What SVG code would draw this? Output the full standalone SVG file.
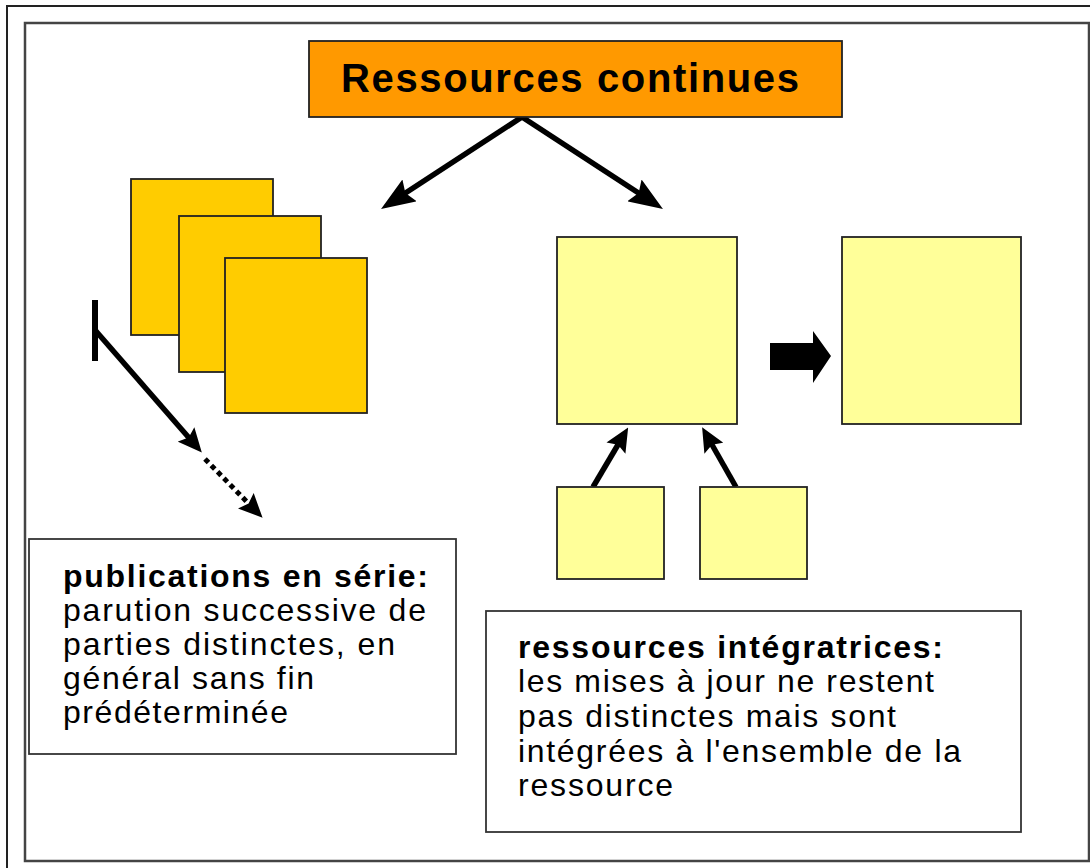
<svg xmlns="http://www.w3.org/2000/svg" width="1090" height="868" viewBox="0 0 1090 868">
<style>
.frame{fill:none;stroke:#222;stroke-width:2}
.inner{fill:#fff;stroke:#444;stroke-width:2.5}
.box{stroke:#222;stroke-width:1.8}
.gold{fill:#FFCC00}
.pale{fill:#FFFF99}
.orange{fill:#FF9900}
.txtbox{fill:#fff;stroke:#333;stroke-width:1.8}
.conn{stroke:#000;stroke-width:5.5;fill:none}
.dot{stroke:#000;stroke-width:5;fill:none;stroke-dasharray:5 4}
.t{font-family:"Liberation Sans",Arial,sans-serif;font-size:32px;fill:#000}
.b{font-weight:bold}
</style>
<defs>
<marker id="big" markerUnits="userSpaceOnUse" markerWidth="34" markerHeight="26" viewBox="0 0 34 26" refX="14" refY="13" orient="auto">
<path d="M0,0 L34,13 L0,26 L5,13 Z" fill="#000"/>
</marker>
<marker id="mid" markerUnits="userSpaceOnUse" markerWidth="24" markerHeight="22" viewBox="0 0 24 22" refX="6" refY="11" orient="auto">
<path d="M0,0 L24,11 L0,22 L4,11 Z" fill="#000"/>
</marker>
</defs>
<rect x="7" y="6" width="1100" height="880" class="frame"/>
<rect x="25" y="23" width="1064" height="838" class="inner"/>

<g id="connectors">
<line x1="522" y1="117" x2="397.8" y2="198" class="conn" marker-end="url(#big)"/>
<line x1="522" y1="117" x2="646.2" y2="198" class="conn" marker-end="url(#big)"/>
<rect x="92" y="300" width="6" height="61" fill="#000"/>
<line x1="95" y1="330" x2="190" y2="439" class="conn" marker-end="url(#mid)"/>
<line x1="205" y1="459" x2="250" y2="505" class="dot" marker-end="url(#mid)"/>
<line x1="593" y1="487" x2="619" y2="443" class="conn" marker-end="url(#mid)"/>
<line x1="736" y1="487" x2="711" y2="443" class="conn" marker-end="url(#mid)"/>
<polygon points="770,343 813,343 813,331 831,356 813,383 813,370 770,370" fill="#000"/>
</g>

<g id="title">
<rect x="309" y="41" width="533" height="76" class="box orange"/>
<text x="341" y="92" class="t b" style="font-size:40px" textLength="458" lengthAdjust="spacing">Ressources continues</text>
</g>

<g id="serial-1"><rect x="131" y="179" width="142" height="156" class="box gold"/></g>
<g id="serial-2"><rect x="179" y="216" width="142" height="156" class="box gold"/></g>
<g id="serial-3"><rect x="225" y="258" width="142" height="155" class="box gold"/></g>

<g id="integ-main"><rect x="557" y="237" width="180" height="187" class="box pale"/></g>
<g id="integ-result"><rect x="842" y="237" width="179" height="187" class="box pale"/></g>
<g id="update-1"><rect x="557" y="487" width="107" height="92" class="box pale"/></g>
<g id="update-2"><rect x="700" y="487" width="107" height="92" class="box pale"/></g>

<g id="serial-text">
<rect x="29" y="539" width="427" height="215" class="txtbox"/>
<text class="t" lengthAdjust="spacing">
<tspan x="63" y="587" class="b" textLength="365">publications en série:</tspan>
<tspan x="63" y="621" textLength="363">parution successive de</tspan>
<tspan x="63" y="655" textLength="332">parties distinctes, en</tspan>
<tspan x="63" y="689" textLength="251">général sans fin</tspan>
<tspan x="63" y="723" textLength="225">prédéterminée</tspan>
</text>
</g>

<g id="integ-text">
<rect x="486" y="611" width="535" height="221" class="txtbox"/>
<text class="t" lengthAdjust="spacing">
<tspan x="518" y="658" class="b" textLength="425">ressources intégratrices:</tspan>
<tspan x="518" y="692" textLength="416">les mises à jour ne restent</tspan>
<tspan x="518" y="727" textLength="378">pas distinctes mais sont</tspan>
<tspan x="518" y="762" textLength="443">intégrées à l'ensemble de la</tspan>
<tspan x="518" y="796" textLength="155">ressource</tspan>
</text>
</g>
</svg>
